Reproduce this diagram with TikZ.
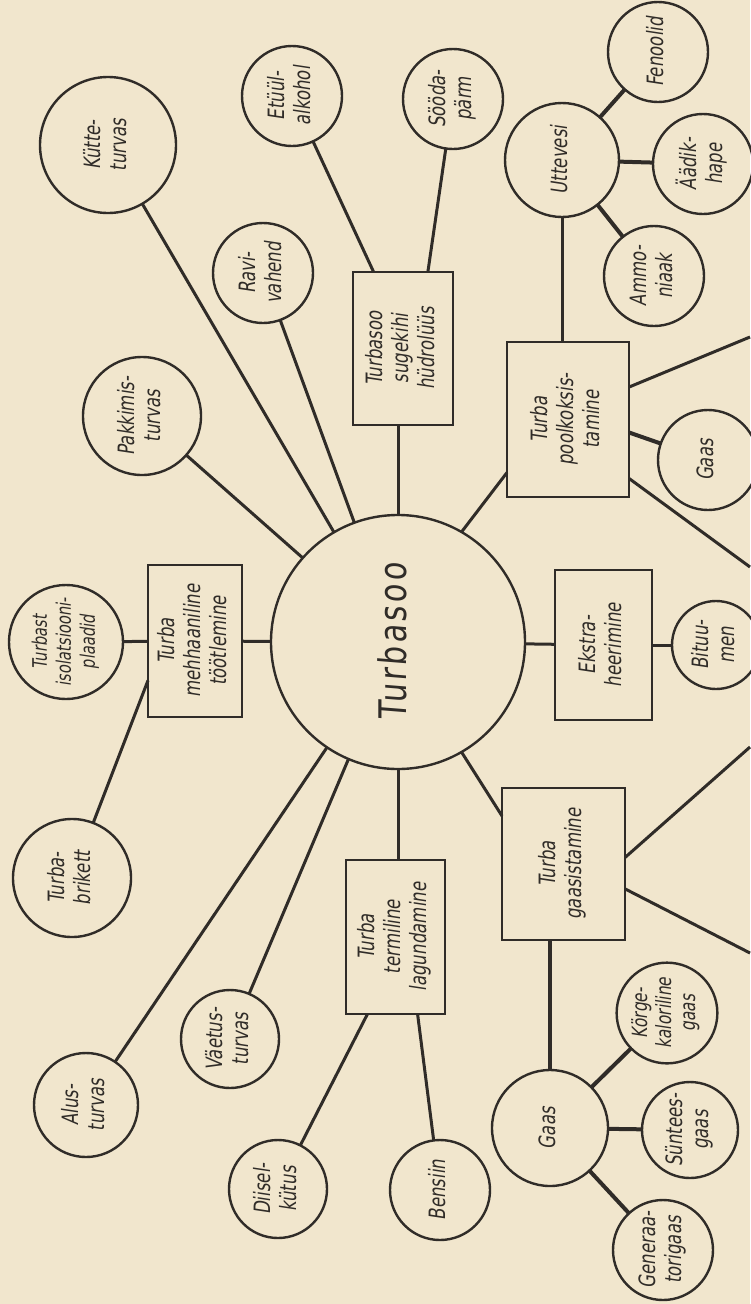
\documentclass[tikz,border=0pt]{standalone}
\usepackage{fontspec}
\setmainfont{DejaVu Sans}
\newfontfamily\lab{DejaVu Sans}[FakeStretch=0.74,FakeSlant=0.15]
\newfontfamily\biglab{DejaVu Sans}[FakeStretch=0.8,FakeSlant=0.08,LetterSpace=8]
\usetikzlibrary{calc}
\definecolor{paper}{RGB}{241,230,205}
\definecolor{ink}{RGB}{48,44,40}
\newcommand{\rt}[1]{\rotatebox{90}{\begin{tabular}{@{}c@{}}#1\end{tabular}}}
\tikzset{
  lbl/.style={font=\lab\fontsize{22.5}{26}\selectfont, text=ink, inner sep=0pt, outer sep=0pt},
  bub/.style={lbl, circle, draw=ink, line width=2.4pt, minimum size=#1},
  blk/.style 2 args={lbl, rectangle, draw=ink, line width=2.4pt, minimum width=#1, minimum height=#2},
  link/.style={draw=ink, line width=3pt},
  heavylink/.style={draw=ink, line width=4pt}
}
\begin{document}
\begin{tikzpicture}[x=1pt,y=-1pt]
\fill[paper] (0,0) rectangle (750,1304);
\useasboundingbox (0,0) rectangle (750,1304);

% centre
\node[bub=254pt] (turbasoo) at (398,642) {\biglab\fontsize{38}{42}\selectfont\rt{Turbasoo}};

% boxes
\node[blk={94pt}{152pt}] (mech) at (195,641) {\rt{Turba\\mehhaaniline\\töötlemine}};
\node[blk={100pt}{153pt}] (hydro) at (403,348.5) {\rt{Turbasoo\\sugekihi\\hüdrolüüs}};
\node[blk={122pt}{155pt}] (poolk) at (568,419.5) {\rt{Turba\\poolkoksis-\\tamine}};
\node[blk={97pt}{150pt}] (ekstr) at (603.5,645) {\rt{Ekstra-\\heerimine}};
\node[blk={123pt}{152pt}] (gaasist) at (563.5,864) {\rt{Turba\\gaasistamine}};
\node[blk={99pt}{154pt}] (termil) at (395.5,937) {\rt{Turba\\termiline\\lagundamine}};

% circles
\node[bub=114pt] (isol) at (66,642) {\fontsize{20}{24}\selectfont\rt{Turbast\\isolatsiooni-\\plaadid}};
\node[bub=118pt] (brik) at (72,878) {\rt{Turba-\\brikett}};
\node[bub=118pt] (pakk) at (142,416) {\rt{Pakkimis-\\turvas}};
\node[bub=136pt] (kytte) at (108,145) {\rt{Kütte-\\turvas}};
\node[bub=100pt] (ravi) at (263,273) {\rt{Ravi-\\vahend}};
\node[bub=100pt] (etyyl) at (292,96) {\rt{Etüül-\\alkohol}};
\node[bub=100pt] (sooda) at (453,99) {\rt{Sööda-\\pärm}};
\node[bub=114pt] (utte) at (562,160) {\rt{Uttevesi}};
\node[bub=100pt] (fenool) at (658,52) {\rt{Fenoolid}};
\node[bub=100pt] (adik) at (703,164) {\rt{Äädik-\\hape}};
\node[bub=100pt] (ammo) at (654,276) {\rt{Ammo-\\niaak}};
\node[bub=100pt] (gaasA) at (708,460) {\rt{Gaas}};
\node[bub=88pt] (bitu) at (716,645) {\rt{Bituu-\\men}};
\node[bub=116pt] (gaasB) at (550,1128) {\rt{Gaas}};
\node[bub=100pt] (korge) at (667,1013) {\fontsize{21}{24}\selectfont\rt{Körge-\\kaloriline\\gaas}};
\node[bub=96pt] (suntees) at (690,1130) {\rt{Süntees-\\gaas}};
\node[bub=100pt] (gener) at (663,1250) {\rt{Generaa-\\torigaas}};
\node[bub=100pt] (bensiin) at (440,1190) {\rt{Bensiin}};
\node[bub=98pt] (diisel) at (278,1189) {\rt{Diisel-\\kütus}};
\node[bub=98pt] (vaetus) at (230,1039) {\rt{Väetus-\\turvas}};
\node[bub=104pt] (alus) at (86,1105) {\rt{Alus-\\turvas}};

% free ends at the right edge
\coordinate (e1) at (750,337);
\coordinate (e2) at (750,567);
\coordinate (e3) at (750,747);
\coordinate (e4) at (750,953);

% connectors
\draw[link] (turbasoo) -- (mech);
\draw[link] (mech) -- (isol);
\draw[link] (brik) -- (mech.220);
\draw[link] (turbasoo) -- (pakk);
\draw[link] (turbasoo) -- (kytte);
\draw[link] (turbasoo) -- (ravi);
\draw[link] (turbasoo.north) -- (turbasoo.north |- hydro.south);
\draw[link] (etyyl) -- (hydro.111);
\draw[link] (sooda) -- (hydro.72.6);
\draw[link] (turbasoo.60) -- (poolk.221.3);
\draw[link] (utte.south) -- (utte.south |- poolk.north);
\draw[heavylink] (utte) -- (fenool);
\draw[heavylink] (utte) -- (adik);
\draw[heavylink] (utte) -- (ammo);
\draw[heavylink] (poolk.-12.5) -- (gaasA);
\draw[link] (poolk.28) -- (e1);
\draw[link] (poolk.-44.8) -- (e2);
\draw[link] (turbasoo) -- (ekstr);
\draw[link] (ekstr) -- (bitu);
\draw[link] (turbasoo.-60) -- (gaasist.142.6);
\draw[link] (gaasist.6.5) -- (e3);
\draw[link] (gaasist.-22.9) -- (e4);
\draw[heavylink] (gaasB.north) -- (gaasB.north |- gaasist.south);
\draw[heavylink] (gaasB) -- (korge);
\draw[heavylink] (gaasB) -- (suntees);
\draw[heavylink] (gaasB) -- (gener);
\draw[link] (turbasoo.south) -- (turbasoo.south |- termil.north);
\draw[link] (termil.-74) -- (bensiin);
\draw[link] (diisel) -- (termil.-110.3);
\draw[link] (turbasoo) -- (vaetus);
\draw[link] (turbasoo) -- (alus);
\end{tikzpicture}
\end{document}
